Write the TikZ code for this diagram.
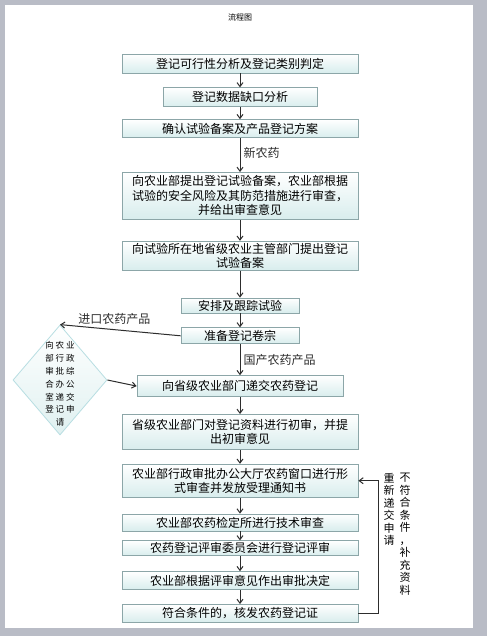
\documentclass[tikz,border=0pt]{standalone}
\usepackage{fontspec}
\newfontfamily\cjk{Noto Sans CJK SC}
\usetikzlibrary{arrows.meta, positioning, shapes.geometric, calc}
\definecolor{pagegray}{RGB}{185,188,198}
\definecolor{boxline}{RGB}{140,166,168}
\definecolor{boxfill}{RGB}{216,237,237}
\definecolor{dialine}{RGB}{184,222,226}
\definecolor{arrgray}{RGB}{45,45,45}

\begin{document}
\begin{tikzpicture}[
  x=1pt, y=-1pt,
  box/.style   ={draw=boxline, line width=0.8pt, top color=white, bottom color=boxfill,
                 minimum width=236pt, inner sep=0pt, align=center,
                 font=\cjk\fontsize{12}{14.5}\selectfont},
  dia/.style   ={diamond, draw=dialine, line width=0.8pt, top color=white, bottom color=boxfill!80,
                 minimum width=94pt, minimum height=110pt, inner sep=0pt},
  lbl/.style   ={font=\cjk\fontsize{12}{14}\selectfont, inner sep=3pt},
  vtxt/.style  ={font=\cjk\fontsize{11}{12.5}\selectfont, align=center, inner sep=0pt},
  arr/.style   ={-{Straight Barb[length=4pt, width=6pt]}, line width=1pt, arrgray},
]

%% ---- Page ----
\fill[pagegray] (0,0) rectangle (487,636);
\fill[white] (5,5) rectangle (473,628);
\node[font=\cjk\fontsize{8}{9}\selectfont] (title) at (240,17) {流程图};

%% ---- Main column ----
\node[box, minimum height=19pt] (feas) at (240,63.5) {登记可行性分析及登记类别判定};
\node[box, minimum height=19pt, minimum width=154pt, below=14pt of feas] (gap) {登记数据缺口分析};
\node[box, minimum height=18pt, below=12pt of gap] (plan) {确认试验备案及产品登记方案};
\node[box, minimum height=47pt, below=34pt of plan] (filing)
  {向农业部提出登记试验备案，农业部根据\\试验的安全风险及其防范措施进行审查，\\并给出审查意见};
\node[box, minimum height=29pt, below=21pt of filing] (provfile)
  {向试验所在地省级农业主管部门提出登记\\试验备案};
\node[box, minimum height=15pt, minimum width=118pt, below=27pt of provfile] (track) {安排及跟踪试验};
\node[box, minimum height=16pt, minimum width=118pt, below=14pt of track] (dossier) {准备登记卷宗};
\node[box, minimum height=21pt, minimum width=206pt, below=31pt of dossier] (submit) {向省级农业部门递交农药登记};
\node[box, minimum height=35pt, below=17pt of submit] (prelim)
  {省级农业部门对登记资料进行初审，并提\\出初审意见};
\node[box, minimum height=33pt, below=14pt of prelim] (formal)
  {农业部行政审批办公大厅农药窗口进行形\\式审查并发放受理通知书};
\node[box, minimum height=17pt, below=16pt of formal] (tech) {农业部农药检定所进行技术审查};
\node[box, minimum height=15pt, below=9pt of tech] (review) {农药登记评审委员会进行登记评审};
\node[box, minimum height=18pt, below=15pt of review] (decide) {农业部根据评审意见作出审批决定};
\node[box, minimum height=18pt, below=14pt of decide] (issue) {符合条件的，核发农药登记证};

%% ---- Imported products: diamond ----
\node[dia] (office) at (60,380) {};
\node[font=\cjk\fontsize{8.5}{12.8}\selectfont, align=center, inner sep=0pt, yshift=-4pt] (officetxt) at (office.center)
  {向\hspace{2pt}农\hspace{2pt}业\\部\hspace{2pt}行\hspace{2pt}政\\审\hspace{2pt}批\hspace{2pt}综\\合\hspace{2pt}办\hspace{2pt}公\\室\hspace{2pt}递\hspace{2pt}交\\登\hspace{2pt}记\hspace{2pt}申\\请};

%% ---- Arrows ----
\draw[arr] (feas) -- (gap);
\draw[arr] (gap) -- (plan);
\draw[arr] (plan) -- node[lbl, right, pos=0.45]{新农药} (filing);
\draw[arr] (filing) -- (provfile);
\draw[arr] (provfile) -- (track);
\draw[arr] (track) -- (dossier);
\draw[arr] (dossier) -- node[lbl, right, pos=0.5]{国产农药产品} (submit);
\draw[arr] (dossier.west) -- node[lbl, above, pos=0.55, yshift=2pt]{进口农药产品} (office.north);
\draw[arr] (office.east) -- (submit.west);
\draw[arr] (submit) -- (prelim);
\draw[arr] (prelim) -- (formal);
\draw[arr] (formal) -- (tech);
\draw[arr] (tech) -- (review);
\draw[arr] (review) -- (decide);
\draw[arr] (decide) -- (issue);

%% Rejected -> resubmit (feedback loop)
\coordinate (fb) at ($(issue.east)+(20,0)$);
\draw[arr] (issue.east) -- (fb) |- (formal.east);
\node[vtxt, anchor=north] (resub) at (389,473) {重\\新\\递\\交\\申\\请};
\node[vtxt, anchor=north] (unmet) at (405,473) {不\\符\\合\\条\\件\\，\\补\\充\\资\\料};

\end{tikzpicture}
\end{document}
